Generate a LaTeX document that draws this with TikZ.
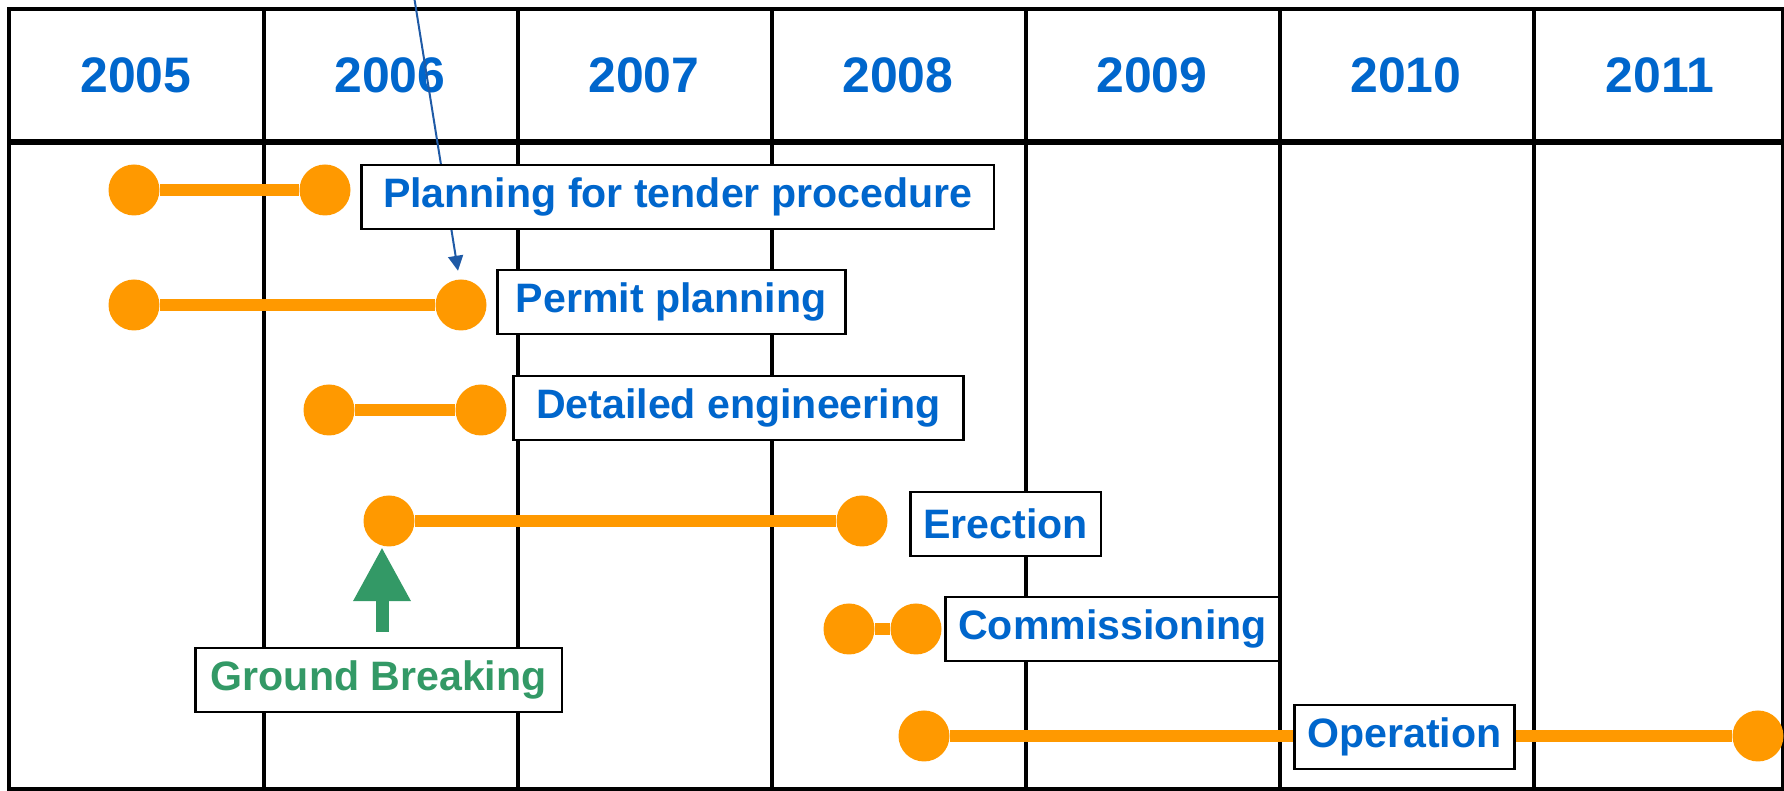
\documentclass[tikz,border=0pt]{standalone}
\usepackage{fontspec}
\setmainfont{Liberation Sans}
\usetikzlibrary{positioning, arrows.meta}
\definecolor{barorange}{HTML}{FF9900}
\definecolor{yearblue}{HTML}{0066CC}
\definecolor{gbgreen}{HTML}{339966}
\definecolor{noteblue}{HTML}{1F5AA6}

\begin{document}
\begin{tikzpicture}[x=0.1mm, y=-0.1mm,
                % Node styles
                yearlbl/.style={font=\fontsize{14.2}{16}\selectfont\bfseries, text=yearblue},
                tdot/.style={circle, fill=barorange, inner sep=0pt, minimum size=5.1mm},
                tasklbl/.style={draw, line width=0.25mm, fill=white, anchor=west, inner xsep=1.3mm, inner ysep=0pt,
                                minimum height=6.4mm, font=\fontsize{11.7}{13}\selectfont\bfseries, text=yearblue},
                gblbl/.style={tasklbl, text=gbgreen},
                % Line styles
                gridline/.style={line width=0.33mm},
                taskbar/.style={line width=1.2mm, barorange},
                gbarrow/.style={-{Triangle[width=5.4mm, length=5.4mm]}, line width=1.3mm, gbgreen},
                notearrow/.style={-{Triangle[width=1.5mm, length=1.5mm]}, line width=0.2mm, noteblue},
            ]
                \useasboundingbox (0,0) rectangle (1784,791);

                % Year grid
                \draw[gridline] (9,9) rectangle (1783,789);
                \draw[gridline, line width=0.6mm] (9,142) -- (1783,142);
                \foreach \i in {1,...,6}
                    \draw[gridline] (10+254*\i,9) -- (10+254*\i,789);
                \foreach \yr [count=\i from 0] in {2005,...,2011}
                    \node[yearlbl] (y\yr) at (136+254*\i,75) {\yr};

                % Note arrow (comes from above the picture)
                \coordinate (memo) at (413,-10);

                % Task bars
                \foreach \n/\xa/\xb/\yy in {pt/134/325/190, pp/134/461/305, de/329/481/410,
                                            er/389/862/521, co/849/916/629, op/924/1758/736} {
                    \node[tdot] (\n1) at (\xa,\yy) {};
                    \node[tdot] (\n2) at (\xb,\yy) {};
                    \draw[taskbar] (\n1) -- (\n2);
                }
                \draw[notearrow] (memo) -- ([xshift=-0.3mm, yshift=0.8mm]pp2.north);

                % Task labels
                \node[tasklbl, minimum width=63.3mm] (ptl) at (360,197) {Planning for tender procedure};
                \node[tasklbl, minimum width=34.8mm] (ppl) at (496,302) {Permit planning};
                \node[tasklbl, minimum width=45mm] (del) at (512,408) {Detailed engineering};
                \node[tasklbl] (erl) at (909,524) {Erection};
                \node[tasklbl] (col) at (944,629) {Commissioning};
                \node[tasklbl] (opl) at (1293,737) {Operation};
                \node[gblbl, minimum width=36.7mm] (gbl) at (194,680) {Ground Breaking};

                % Ground breaking arrow
                \draw[gbarrow] ([xshift=-0.7mm, yshift=1.5mm]gbl.north -| er1) -- ([xshift=-0.7mm]er1.south);
            \end{tikzpicture}
\end{document}
